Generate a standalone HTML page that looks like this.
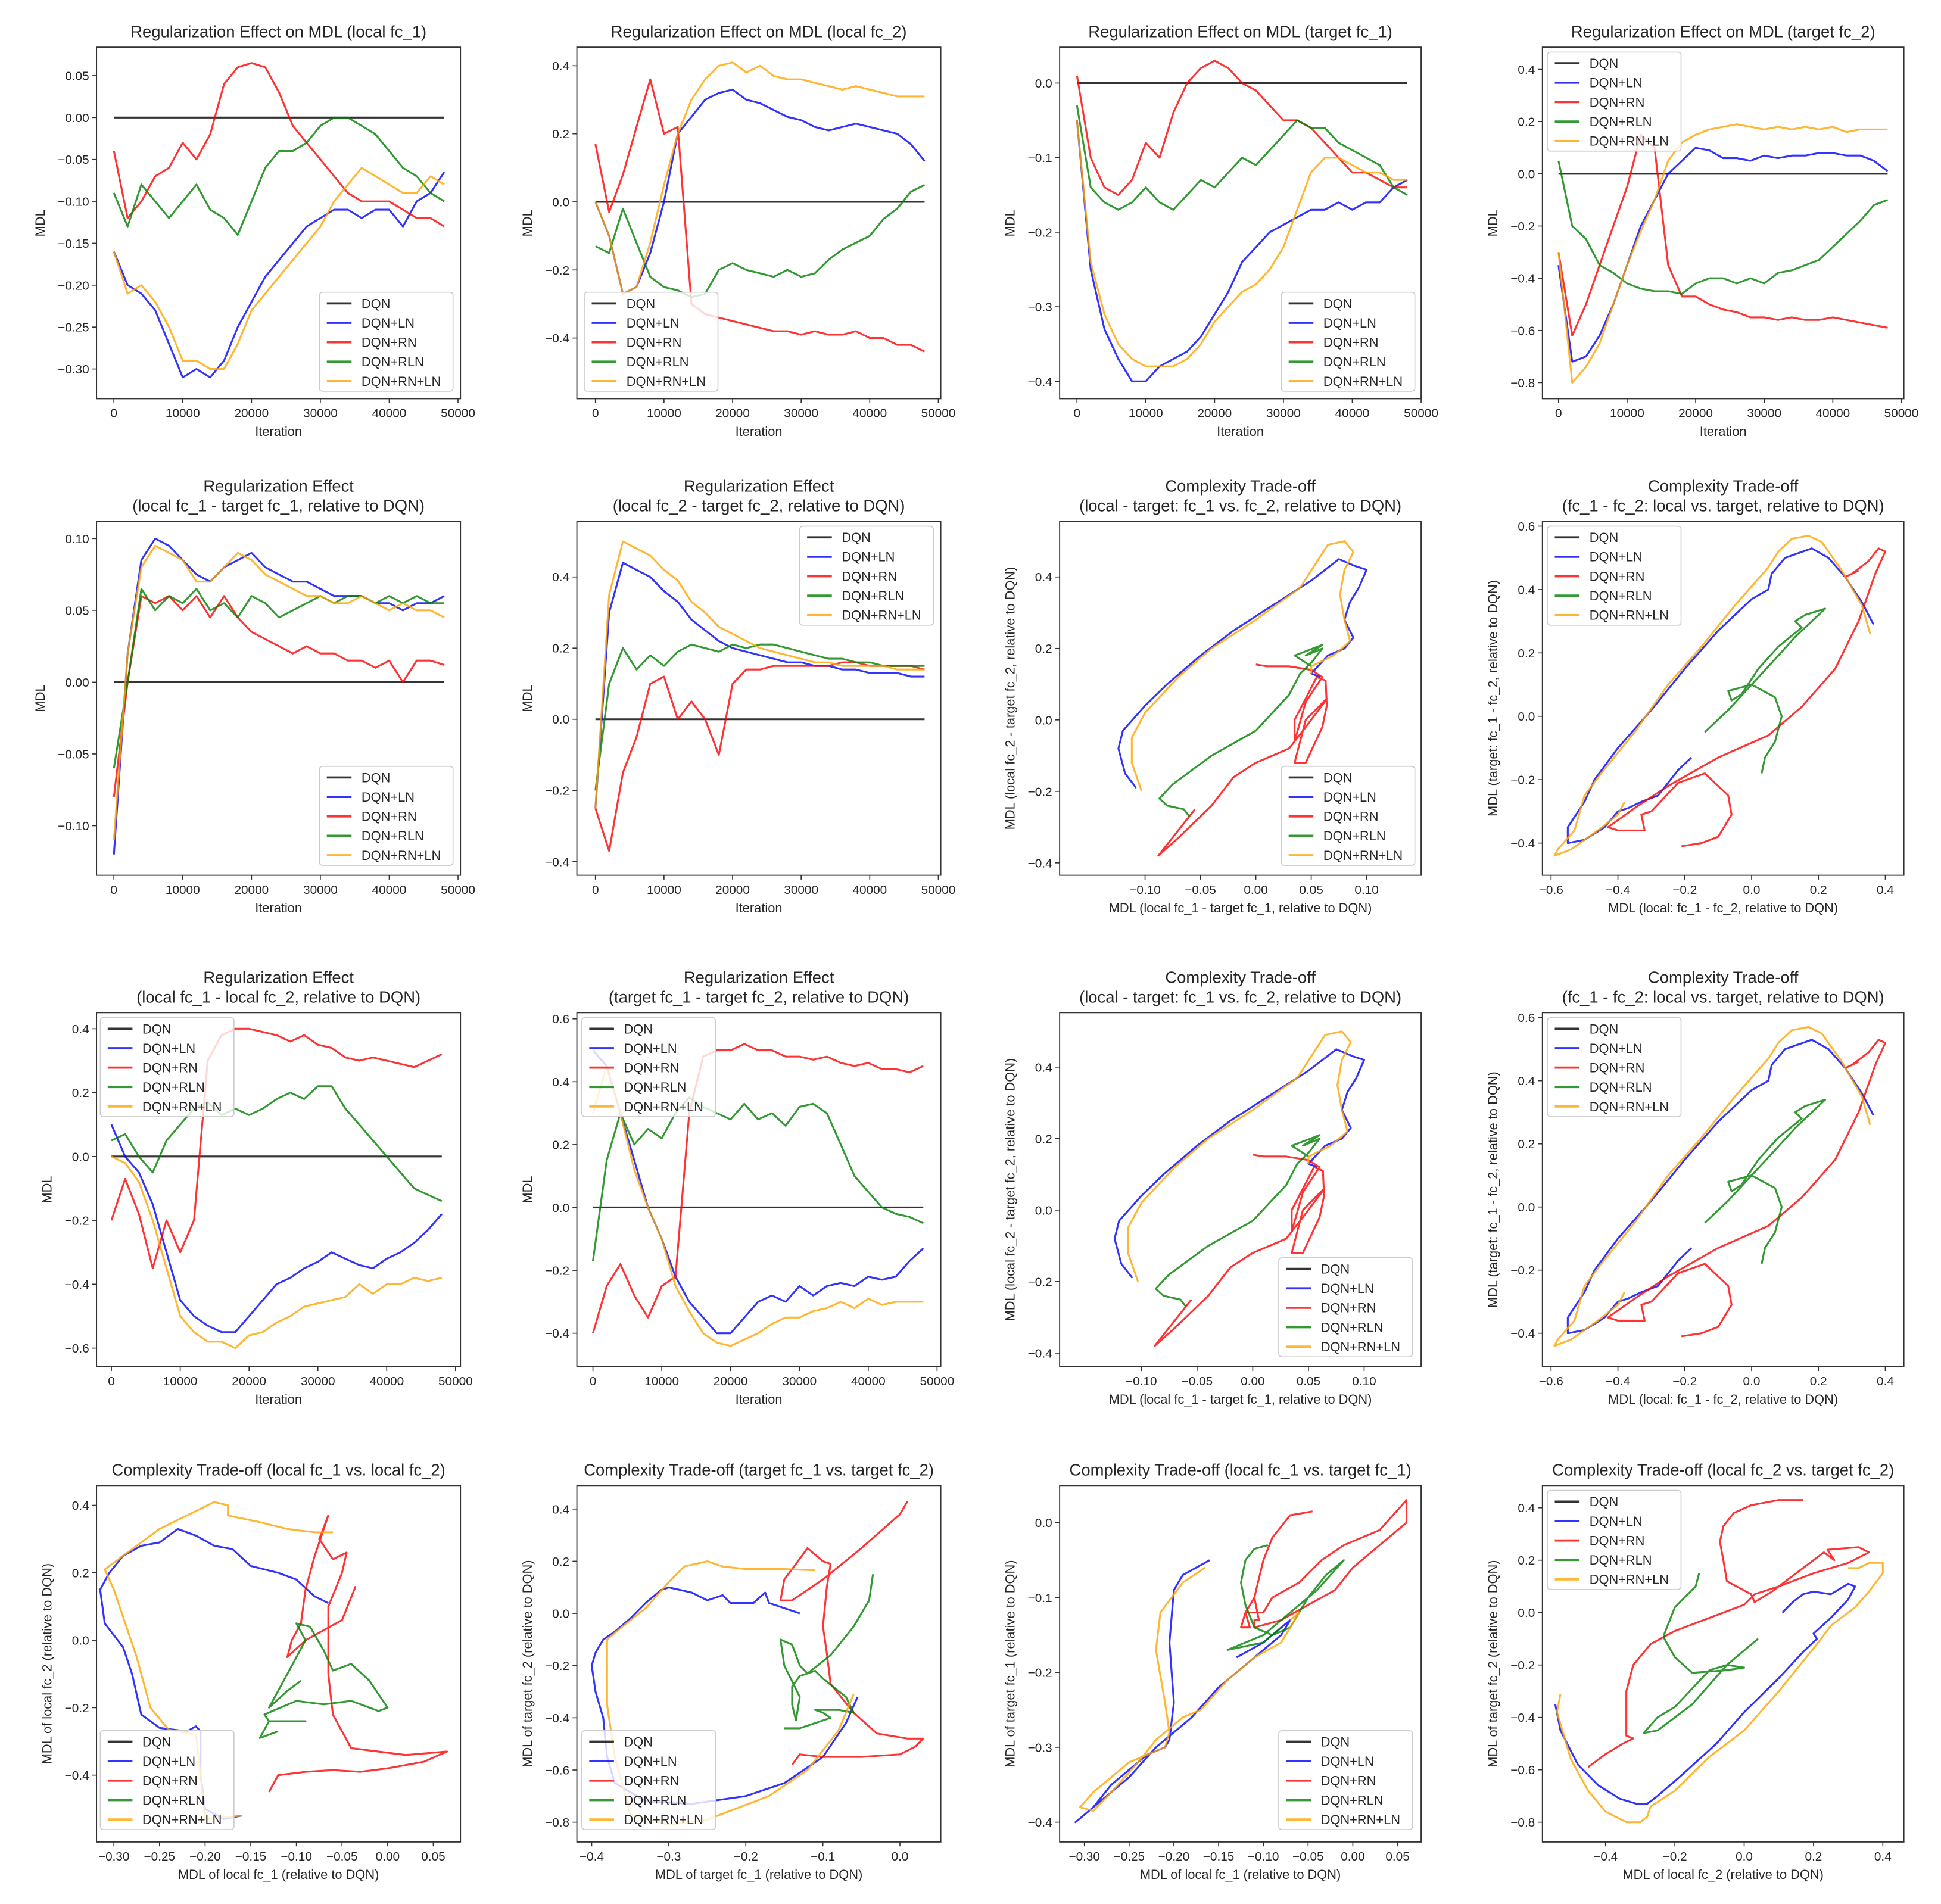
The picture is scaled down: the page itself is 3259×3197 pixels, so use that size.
<!DOCTYPE html>
<html><head><meta charset="utf-8">
<style>
html,body{margin:0;padding:0;background:#fff;}
svg{display:block;}
text{font-family:"Liberation Sans","DejaVu Sans",sans-serif;fill:#262626;}
</style></head>
<body>
<svg id="fig" width="3259" height="3197" viewBox="0 0 1568 1538" xmlns="http://www.w3.org/2000/svg"></svg>
<script>
// ---------- data ----------
const iters = [0,2000,4000,6000,8000,10000,12000,14000,16000,18000,20000,22000,24000,26000,28000,30000,32000,34000,36000,38000,40000,42000,44000,46000,48000];
const seriesNames = ["DQN","DQN+LN","DQN+RN","DQN+RLN","DQN+RN+LN"];
// P1 local fc_1
const p1_LN=[-0.16,-0.20,-0.21,-0.23,-0.27,-0.31,-0.30,-0.31,-0.29,-0.25,-0.22,-0.19,-0.17,-0.15,-0.13,-0.12,-0.11,-0.11,-0.12,-0.11,-0.11,-0.13,-0.10,-0.09,-0.065];
const p1_RNLN=[-0.16,-0.21,-0.20,-0.22,-0.25,-0.29,-0.29,-0.30,-0.30,-0.27,-0.23,-0.21,-0.19,-0.17,-0.15,-0.13,-0.10,-0.08,-0.06,-0.07,-0.08,-0.09,-0.09,-0.07,-0.08];
const p1_RN=[-0.04,-0.12,-0.10,-0.07,-0.06,-0.03,-0.05,-0.02,0.04,0.06,0.065,0.06,0.03,-0.01,-0.03,-0.05,-0.07,-0.09,-0.10,-0.10,-0.10,-0.11,-0.12,-0.12,-0.13];
const p1_RLN=[-0.09,-0.13,-0.08,-0.10,-0.12,-0.10,-0.08,-0.11,-0.12,-0.14,-0.10,-0.06,-0.04,-0.04,-0.03,-0.01,0.00,0.00,-0.01,-0.02,-0.04,-0.06,-0.07,-0.09,-0.10];
// P2 local fc_2
const p2_LN=[0.0,-0.1,-0.27,-0.25,-0.15,0.0,0.2,0.25,0.30,0.32,0.33,0.30,0.29,0.27,0.25,0.24,0.22,0.21,0.22,0.23,0.22,0.21,0.20,0.17,0.12];
const p2_RNLN=[0.0,-0.1,-0.27,-0.25,-0.12,0.05,0.2,0.30,0.36,0.40,0.41,0.38,0.40,0.37,0.36,0.36,0.35,0.34,0.33,0.34,0.33,0.32,0.31,0.31,0.31];
const p2_RN=[0.17,-0.03,0.08,0.22,0.36,0.20,0.22,-0.30,-0.33,-0.34,-0.35,-0.36,-0.37,-0.38,-0.38,-0.39,-0.38,-0.39,-0.39,-0.38,-0.40,-0.40,-0.42,-0.42,-0.44];
const p2_RLN=[-0.13,-0.15,-0.02,-0.12,-0.22,-0.25,-0.26,-0.28,-0.27,-0.20,-0.18,-0.20,-0.21,-0.22,-0.20,-0.22,-0.21,-0.17,-0.14,-0.12,-0.10,-0.05,-0.02,0.03,0.05];
// P3 target fc_1
const p3_LN=[-0.05,-0.25,-0.33,-0.37,-0.40,-0.40,-0.38,-0.37,-0.36,-0.34,-0.31,-0.28,-0.24,-0.22,-0.20,-0.19,-0.18,-0.17,-0.17,-0.16,-0.17,-0.16,-0.16,-0.14,-0.13];
const p3_RNLN=[-0.05,-0.24,-0.31,-0.35,-0.37,-0.38,-0.38,-0.38,-0.37,-0.35,-0.32,-0.30,-0.28,-0.27,-0.25,-0.22,-0.17,-0.12,-0.10,-0.10,-0.11,-0.12,-0.12,-0.13,-0.13];
const p3_RN=[0.01,-0.10,-0.14,-0.15,-0.13,-0.08,-0.10,-0.04,0.0,0.02,0.03,0.02,0.00,-0.01,-0.03,-0.05,-0.05,-0.06,-0.08,-0.10,-0.12,-0.12,-0.13,-0.14,-0.14];
const p3_RLN=[-0.03,-0.14,-0.16,-0.17,-0.16,-0.14,-0.16,-0.17,-0.15,-0.13,-0.14,-0.12,-0.10,-0.11,-0.09,-0.07,-0.05,-0.06,-0.06,-0.08,-0.09,-0.10,-0.11,-0.14,-0.15];
// P4 target fc_2
const p4_LN=[-0.35,-0.72,-0.70,-0.62,-0.50,-0.35,-0.20,-0.10,0.0,0.05,0.10,0.09,0.06,0.06,0.05,0.07,0.06,0.07,0.07,0.08,0.08,0.07,0.07,0.05,0.01];
const p4_RNLN=[-0.3,-0.80,-0.74,-0.65,-0.50,-0.35,-0.22,-0.10,0.05,0.12,0.15,0.17,0.18,0.19,0.18,0.17,0.18,0.17,0.18,0.17,0.18,0.16,0.17,0.17,0.17];
const p4_RN=[-0.30,-0.62,-0.50,-0.35,-0.20,-0.05,0.15,0.10,-0.35,-0.47,-0.47,-0.50,-0.52,-0.53,-0.55,-0.55,-0.56,-0.55,-0.56,-0.56,-0.55,-0.56,-0.57,-0.58,-0.59];
const p4_RLN=[0.05,-0.20,-0.25,-0.35,-0.38,-0.42,-0.44,-0.45,-0.45,-0.46,-0.42,-0.40,-0.40,-0.42,-0.40,-0.42,-0.38,-0.37,-0.35,-0.33,-0.28,-0.23,-0.18,-0.12,-0.10];
// P5
const p5_LN=[-0.12,0.02,0.085,0.10,0.095,0.085,0.075,0.07,0.08,0.085,0.09,0.08,0.075,0.07,0.07,0.065,0.06,0.06,0.06,0.055,0.055,0.05,0.055,0.055,0.06];
const p5_RNLN=[-0.11,0.02,0.08,0.095,0.09,0.085,0.07,0.07,0.08,0.09,0.085,0.075,0.07,0.065,0.06,0.06,0.055,0.055,0.06,0.055,0.05,0.055,0.05,0.05,0.045];
const p5_RN=[-0.08,0.0,0.06,0.055,0.06,0.05,0.06,0.045,0.06,0.045,0.035,0.03,0.025,0.02,0.025,0.02,0.02,0.015,0.015,0.01,0.015,0.0,0.015,0.015,0.012];
const p5_RLN=[-0.06,0.0,0.065,0.05,0.06,0.055,0.065,0.05,0.055,0.045,0.06,0.055,0.045,0.05,0.055,0.06,0.055,0.06,0.06,0.055,0.06,0.055,0.06,0.055,0.055];
// P6
const p6_LN=[-0.25,0.30,0.44,0.42,0.40,0.36,0.33,0.28,0.25,0.22,0.20,0.19,0.18,0.17,0.16,0.16,0.15,0.15,0.14,0.14,0.13,0.13,0.13,0.12,0.12];
const p6_RNLN=[-0.25,0.35,0.50,0.48,0.46,0.42,0.39,0.33,0.30,0.26,0.24,0.22,0.20,0.19,0.18,0.17,0.16,0.16,0.15,0.15,0.15,0.15,0.14,0.14,0.14];
const p6_RN=[-0.25,-0.37,-0.15,-0.05,0.10,0.12,0.0,0.05,0.0,-0.10,0.10,0.14,0.14,0.15,0.15,0.15,0.15,0.15,0.16,0.16,0.15,0.15,0.15,0.15,0.14];
const p6_RLN=[-0.2,0.10,0.20,0.14,0.18,0.15,0.19,0.21,0.20,0.19,0.21,0.20,0.21,0.21,0.20,0.19,0.18,0.17,0.17,0.16,0.16,0.15,0.15,0.15,0.15];
// P9
const p9_LN=[0.1,0.0,-0.05,-0.15,-0.30,-0.45,-0.50,-0.53,-0.55,-0.55,-0.50,-0.45,-0.40,-0.38,-0.35,-0.33,-0.30,-0.32,-0.34,-0.35,-0.32,-0.30,-0.27,-0.23,-0.18];
const p9_RNLN=[0.0,-0.02,-0.08,-0.20,-0.35,-0.50,-0.55,-0.58,-0.58,-0.60,-0.56,-0.55,-0.52,-0.50,-0.47,-0.46,-0.45,-0.44,-0.40,-0.43,-0.40,-0.40,-0.38,-0.39,-0.38];
const p9_RN=[-0.2,-0.07,-0.18,-0.35,-0.2,-0.3,-0.2,0.30,0.38,0.40,0.40,0.39,0.38,0.36,0.38,0.35,0.34,0.31,0.30,0.31,0.30,0.29,0.28,0.30,0.32];
const p9_RLN=[0.05,0.07,0.0,-0.05,0.05,0.10,0.15,0.17,0.13,0.15,0.13,0.15,0.18,0.20,0.18,0.22,0.22,0.15,0.10,0.05,0.0,-0.05,-0.10,-0.12,-0.14];
// P10
const p10_LN=[0.5,0.45,0.3,0.15,0.0,-0.1,-0.22,-0.30,-0.35,-0.40,-0.40,-0.35,-0.30,-0.28,-0.30,-0.25,-0.28,-0.25,-0.24,-0.25,-0.22,-0.23,-0.22,-0.17,-0.13];
const p10_RNLN=[0.3,0.45,0.3,0.12,0.0,-0.1,-0.25,-0.33,-0.40,-0.43,-0.44,-0.42,-0.40,-0.37,-0.35,-0.35,-0.33,-0.32,-0.30,-0.32,-0.29,-0.31,-0.30,-0.30,-0.30];
const p10_RN=[-0.4,-0.25,-0.18,-0.28,-0.35,-0.25,-0.22,0.30,0.48,0.50,0.50,0.52,0.50,0.50,0.48,0.48,0.47,0.48,0.46,0.45,0.46,0.44,0.44,0.43,0.45];
const p10_RLN=[-0.17,0.15,0.30,0.20,0.25,0.22,0.30,0.35,0.32,0.30,0.28,0.33,0.28,0.30,0.26,0.32,0.33,0.30,0.20,0.10,0.05,0.0,-0.02,-0.03,-0.05];
// P7 / P11 parametric [x,y]
const p7_LN=[[-0.108,-0.19],[-0.118,-0.15],[-0.124,-0.08],[-0.12,-0.03],[-0.10,0.04],[-0.08,0.10],[-0.05,0.18],[-0.02,0.25],[0.02,0.33],[0.05,0.39],[0.075,0.45],[0.09,0.43],[0.10,0.42],[0.093,0.37],[0.085,0.33],[0.08,0.28],[0.088,0.23],[0.08,0.20],[0.065,0.18],[0.05,0.13],[0.058,0.12]];
const p7_RNLN=[[-0.103,-0.20],[-0.112,-0.12],[-0.112,-0.05],[-0.10,0.02],[-0.07,0.12],[-0.04,0.20],[0.0,0.28],[0.04,0.37],[0.065,0.49],[0.08,0.50],[0.088,0.47],[0.08,0.42],[0.076,0.35],[0.08,0.28],[0.085,0.22],[0.07,0.18],[0.05,0.15],[0.05,0.13]];
const p7_RN=[[-0.055,-0.25],[-0.088,-0.38],[-0.07,-0.33],[-0.04,-0.24],[-0.02,-0.16],[0.0,-0.12],[0.03,-0.08],[0.045,-0.02],[0.062,0.05],[0.064,0.06],[0.045,0.0],[0.035,-0.12],[0.045,-0.12],[0.06,-0.02],[0.064,0.04],[0.063,0.11],[0.055,0.12],[0.045,0.06],[0.035,0.0],[0.035,-0.06],[0.045,0.05],[0.06,0.12],[0.05,0.14],[0.03,0.15],[0.01,0.15],[0.0,0.155]];
const p7_RLN=[[-0.06,-0.27],[-0.065,-0.25],[-0.08,-0.24],[-0.087,-0.22],[-0.075,-0.18],[-0.04,-0.10],[0.0,-0.03],[0.03,0.07],[0.04,0.13],[0.05,0.16],[0.06,0.20],[0.045,0.18],[0.06,0.21],[0.035,0.18],[0.05,0.15]];
// P8 / P12
const p8_LN=[[-0.18,-0.13],[-0.22,-0.17],[-0.28,-0.25],[-0.33,-0.27],[-0.37,-0.29],[-0.40,-0.30],[-0.44,-0.35],[-0.50,-0.39],[-0.55,-0.40],[-0.55,-0.35],[-0.50,-0.27],[-0.47,-0.20],[-0.40,-0.10],[-0.30,0.02],[-0.20,0.15],[-0.10,0.27],[0.0,0.37],[0.05,0.40],[0.06,0.45],[0.10,0.50],[0.18,0.53],[0.23,0.50],[0.28,0.44],[0.33,0.36],[0.365,0.29]];
const p8_RNLN=[[-0.38,-0.27],[-0.40,-0.31],[-0.46,-0.36],[-0.54,-0.42],[-0.59,-0.44],[-0.58,-0.42],[-0.53,-0.36],[-0.50,-0.25],[-0.45,-0.18],[-0.35,-0.05],[-0.25,0.10],[-0.15,0.22],[-0.05,0.35],[0.05,0.47],[0.08,0.52],[0.12,0.56],[0.17,0.57],[0.21,0.55],[0.27,0.46],[0.33,0.35],[0.355,0.26]];
const p8_RN=[[-0.21,-0.41],[-0.15,-0.40],[-0.10,-0.38],[-0.06,-0.31],[-0.07,-0.25],[-0.14,-0.18],[-0.22,-0.21],[-0.30,-0.30],[-0.33,-0.31],[-0.32,-0.36],[-0.40,-0.36],[-0.43,-0.35],[-0.35,-0.29],[-0.25,-0.22],[-0.10,-0.13],[0.05,-0.06],[0.15,0.03],[0.25,0.15],[0.32,0.30],[0.37,0.45],[0.40,0.52],[0.38,0.53],[0.35,0.49],[0.30,0.45],[0.28,0.44],[0.32,0.46]];
const p8_RLN=[[0.03,-0.18],[0.04,-0.13],[0.07,-0.08],[0.09,0.0],[0.07,0.06],[0.0,0.10],[-0.07,0.08],[-0.06,0.05],[-0.03,0.07],[0.02,0.15],[0.08,0.22],[0.15,0.28],[0.13,0.30],[0.16,0.32],[0.22,0.34],[0.13,0.25],[0.07,0.18],[0.0,0.10],[-0.07,0.02],[-0.14,-0.05]];
// P13
const p13_LN=[[-0.16,-0.52],[-0.18,-0.53],[-0.20,-0.50],[-0.205,-0.40],[-0.205,-0.27],[-0.21,-0.255],[-0.22,-0.27],[-0.25,-0.26],[-0.27,-0.22],[-0.28,-0.10],[-0.29,-0.02],[-0.31,0.05],[-0.315,0.15],[-0.305,0.20],[-0.29,0.25],[-0.27,0.28],[-0.25,0.29],[-0.23,0.33],[-0.21,0.31],[-0.19,0.28],[-0.17,0.27],[-0.15,0.22],[-0.12,0.20],[-0.10,0.18],[-0.08,0.13],[-0.065,0.11]];
const p13_RNLN=[[-0.16,-0.52],[-0.20,-0.53],[-0.205,-0.40],[-0.21,-0.28],[-0.24,-0.265],[-0.26,-0.20],[-0.275,-0.05],[-0.30,0.15],[-0.31,0.21],[-0.28,0.27],[-0.25,0.33],[-0.22,0.37],[-0.19,0.41],[-0.175,0.40],[-0.175,0.37],[-0.14,0.35],[-0.11,0.33],[-0.08,0.32],[-0.06,0.32]];
const p13_RN=[[-0.13,-0.45],[-0.12,-0.40],[-0.09,-0.39],[-0.06,-0.385],[-0.03,-0.39],[0.00,-0.38],[0.04,-0.36],[0.065,-0.33],[0.02,-0.34],[-0.04,-0.32],[-0.06,-0.22],[-0.065,-0.10],[-0.065,0.10],[-0.05,0.20],[-0.045,0.26],[-0.06,0.24],[-0.075,0.30],[-0.065,0.37],[-0.08,0.25],[-0.09,0.15],[-0.095,0.05],[-0.105,0.0],[-0.11,-0.05],[-0.09,0.0],[-0.05,0.06],[-0.035,0.16]];
const p13_RLN=[[-0.12,-0.27],[-0.14,-0.29],[-0.13,-0.24],[-0.09,-0.24],[-0.13,-0.24],[-0.135,-0.22],[-0.10,-0.18],[-0.07,-0.19],[-0.04,-0.18],[-0.01,-0.21],[0.00,-0.20],[-0.02,-0.12],[-0.04,-0.07],[-0.06,-0.09],[-0.07,-0.03],[-0.085,0.04],[-0.10,0.05],[-0.09,0.0],[-0.11,-0.10],[-0.12,-0.15],[-0.13,-0.20],[-0.11,-0.15],[-0.095,-0.12]];
// P14
const p14_LN=[[-0.055,-0.32],[-0.07,-0.42],[-0.10,-0.55],[-0.15,-0.65],[-0.20,-0.70],[-0.27,-0.73],[-0.33,-0.72],[-0.37,-0.65],[-0.38,-0.55],[-0.385,-0.40],[-0.395,-0.30],[-0.40,-0.20],[-0.395,-0.15],[-0.385,-0.10],[-0.37,-0.07],[-0.35,-0.02],[-0.33,0.04],[-0.31,0.09],[-0.30,0.10],[-0.27,0.08],[-0.25,0.05],[-0.23,0.07],[-0.22,0.04],[-0.19,0.04],[-0.175,0.08],[-0.17,0.04],[-0.15,0.02],[-0.13,0.0]];
const p14_RNLN=[[-0.06,-0.31],[-0.08,-0.45],[-0.12,-0.60],[-0.17,-0.70],[-0.25,-0.79],[-0.30,-0.81],[-0.35,-0.77],[-0.37,-0.55],[-0.38,-0.35],[-0.38,-0.10],[-0.36,-0.05],[-0.33,0.02],[-0.30,0.12],[-0.28,0.18],[-0.25,0.20],[-0.23,0.18],[-0.20,0.17],[-0.15,0.17],[-0.11,0.165]];
const p14_RN=[[-0.14,-0.58],[-0.13,-0.54],[-0.10,-0.55],[-0.05,-0.55],[0.0,-0.54],[0.02,-0.51],[0.03,-0.48],[0.01,-0.48],[-0.03,-0.46],[-0.06,-0.38],[-0.09,-0.27],[-0.095,-0.15],[-0.10,-0.05],[-0.095,0.10],[-0.09,0.19],[-0.10,0.20],[-0.12,0.25],[-0.13,0.21],[-0.15,0.13],[-0.155,0.05],[-0.14,0.05],[-0.10,0.13],[-0.05,0.25],[0.0,0.38],[0.01,0.43]];
const p14_RLN=[[-0.15,-0.44],[-0.13,-0.44],[-0.10,-0.41],[-0.09,-0.40],[-0.10,-0.38],[-0.11,-0.37],[-0.08,-0.37],[-0.06,-0.38],[-0.07,-0.32],[-0.10,-0.25],[-0.11,-0.22],[-0.13,-0.24],[-0.14,-0.28],[-0.14,-0.35],[-0.135,-0.41],[-0.13,-0.32],[-0.15,-0.20],[-0.155,-0.10],[-0.14,-0.12],[-0.13,-0.20],[-0.12,-0.23],[-0.09,-0.16],[-0.06,-0.05],[-0.04,0.05],[-0.035,0.15]];
// P15
const p15_LN=[[-0.16,-0.05],[-0.19,-0.07],[-0.20,-0.09],[-0.205,-0.16],[-0.20,-0.24],[-0.205,-0.29],[-0.21,-0.30],[-0.23,-0.31],[-0.25,-0.33],[-0.27,-0.35],[-0.29,-0.38],[-0.31,-0.40],[-0.30,-0.39],[-0.28,-0.37],[-0.25,-0.34],[-0.22,-0.30],[-0.20,-0.28],[-0.18,-0.26],[-0.15,-0.22],[-0.12,-0.19],[-0.10,-0.17],[-0.08,-0.15],[-0.07,-0.13],[-0.10,-0.16],[-0.13,-0.18]];
const p15_RNLN=[[-0.165,-0.06],[-0.19,-0.08],[-0.215,-0.12],[-0.22,-0.17],[-0.21,-0.24],[-0.205,-0.28],[-0.21,-0.30],[-0.25,-0.32],[-0.29,-0.36],[-0.305,-0.38],[-0.29,-0.385],[-0.27,-0.36],[-0.24,-0.32],[-0.22,-0.29],[-0.19,-0.26],[-0.17,-0.25],[-0.14,-0.21],[-0.11,-0.18],[-0.08,-0.16],[-0.06,-0.12],[-0.07,-0.13]];
const p15_RN=[[-0.045,0.015],[-0.07,0.01],[-0.09,-0.02],[-0.10,-0.05],[-0.11,-0.10],[-0.12,-0.12],[-0.125,-0.14],[-0.115,-0.14],[-0.12,-0.12],[-0.10,-0.12],[-0.09,-0.10],[-0.06,-0.08],[-0.035,-0.05],[-0.01,-0.03],[0.03,-0.01],[0.06,0.03],[0.06,0.0],[0.03,-0.03],[0.00,-0.06],[-0.02,-0.09],[-0.05,-0.11],[-0.08,-0.13],[-0.11,-0.14],[-0.11,-0.13],[-0.105,-0.13],[-0.11,-0.10]];
const p15_RLN=[[-0.095,-0.03],[-0.11,-0.035],[-0.12,-0.05],[-0.125,-0.08],[-0.12,-0.11],[-0.11,-0.14],[-0.09,-0.15],[-0.07,-0.14],[-0.05,-0.10],[-0.03,-0.07],[-0.01,-0.05],[-0.04,-0.09],[-0.07,-0.12],[-0.10,-0.15],[-0.13,-0.165],[-0.14,-0.17],[-0.10,-0.16],[-0.08,-0.14]];
// P16
const p16_LN=[[-0.545,-0.35],[-0.53,-0.45],[-0.48,-0.58],[-0.42,-0.66],[-0.36,-0.71],[-0.31,-0.73],[-0.28,-0.73],[-0.25,-0.70],[-0.18,-0.62],[-0.08,-0.50],[0.0,-0.38],[0.10,-0.25],[0.17,-0.15],[0.21,-0.10],[0.20,-0.08],[0.25,-0.02],[0.30,0.05],[0.32,0.10],[0.30,0.11],[0.25,0.07],[0.20,0.08],[0.17,0.07],[0.14,0.04],[0.11,0.0]];
const p16_RNLN=[[-0.53,-0.31],[-0.54,-0.38],[-0.50,-0.56],[-0.45,-0.68],[-0.40,-0.76],[-0.34,-0.80],[-0.30,-0.80],[-0.28,-0.78],[-0.27,-0.74],[-0.20,-0.68],[-0.10,-0.55],[0.0,-0.45],[0.10,-0.30],[0.21,-0.12],[0.25,-0.05],[0.32,0.02],[0.36,0.08],[0.40,0.15],[0.40,0.19],[0.36,0.19],[0.33,0.17],[0.30,0.17]];
const p16_RN=[[-0.45,-0.59],[-0.40,-0.54],[-0.35,-0.50],[-0.32,-0.48],[-0.34,-0.47],[-0.34,-0.30],[-0.32,-0.20],[-0.27,-0.12],[-0.20,-0.07],[-0.10,-0.02],[0.0,0.03],[0.03,0.07],[0.10,0.10],[0.20,0.15],[0.30,0.19],[0.36,0.23],[0.33,0.25],[0.24,0.24],[0.26,0.20],[0.23,0.23],[0.15,0.15],[0.08,0.08],[0.03,0.04],[0.02,0.07],[-0.05,0.12],[-0.06,0.20],[-0.07,0.27],[-0.06,0.33],[-0.03,0.38],[0.02,0.41],[0.10,0.43],[0.17,0.43]];
const p16_RLN=[[-0.13,0.15],[-0.14,0.10],[-0.20,0.02],[-0.23,-0.08],[-0.23,-0.10],[-0.20,-0.17],[-0.15,-0.23],[-0.05,-0.22],[0.0,-0.21],[-0.05,-0.20],[-0.10,-0.22],[-0.15,-0.29],[-0.20,-0.36],[-0.25,-0.40],[-0.29,-0.46],[-0.25,-0.45],[-0.15,-0.35],[-0.05,-0.20],[0.04,-0.10]];

// tick label arrays
const itTicks=[0,10000,20000,30000,40000,50000];
const p1_yt=[0.05,0,-0.05,-0.10,-0.15,-0.20,-0.25,-0.30];
const p2_yt=[0.4,0.2,0.0,-0.2,-0.4];
const p3_yt=[0.0,-0.1,-0.2,-0.3,-0.4];
const p4_yt=[0.4,0.2,0.0,-0.2,-0.4,-0.6,-0.8];
const p5_yt=[0.10,0.05,0.00,-0.05,-0.10];
const p6_yt=[0.4,0.2,0.0,-0.2,-0.4];
const p7_xt=[-0.10,-0.05,0.00,0.05,0.10];
const p7_yt=[0.4,0.2,0.0,-0.2,-0.4];
const p8_xt=[-0.6,-0.4,-0.2,0.0,0.2,0.4];
const p8_yt=[0.6,0.4,0.2,0.0,-0.2,-0.4];
const p9_yt=[0.4,0.2,0.0,-0.2,-0.4,-0.6];
const p10_yt=[0.6,0.4,0.2,0.0,-0.2,-0.4];
const p13_xt=[-0.30,-0.25,-0.20,-0.15,-0.10,-0.05,0.00,0.05];
const p13_yt=[0.4,0.2,0.0,-0.2,-0.4];
const p14_xt=[-0.4,-0.3,-0.2,-0.1,0.0];
const p14_yt=[0.4,0.2,0.0,-0.2,-0.4,-0.6,-0.8];
const p15_xt=[-0.30,-0.25,-0.20,-0.15,-0.10,-0.05,0.00,0.05];
const p15_yt=[0.0,-0.1,-0.2,-0.3,-0.4];
const p16_xt=[-0.4,-0.2,0.0,0.2,0.4];
const p16_yt=[0.4,0.2,0.0,-0.2,-0.4,-0.6,-0.8];

// ---------- layout ----------
const COLORS={"DQN":"#000","DQN+LN":"#0000ff","DQN+RN":"#ff0000","DQN+RLN":"#008000","DQN+RN+LN":"#ffa500"};
const cols=[[78,372],[466,760],[856,1148],[1246,1538]];
const rows=[[38,322],[421,707],[818,1104],[1200,1488]];
const T_RE="Regularization Effect", T_CT="Complexity Trade-off";
const L7x="MDL (local fc_1 - target fc_1, relative to DQN)", L7y="MDL (local fc_2 - target fc_2, relative to DQN)";
const L8x="MDL (local: fc_1 - fc_2, relative to DQN)", L8y="MDL (target: fc_1 - fc_2, relative to DQN)";
const panels=[
 {r:0,c:0,title:["Regularization Effect on MDL (local fc_1)"],xm:[0,92,50000,370],ym:[0.05,61,-0.30,298],xt:itTicks,xd:0,yt:p1_yt,yd:2,xl:"Iteration",yl:"MDL",ts:{LN:p1_LN,RN:p1_RN,RLN:p1_RLN,RNLN:p1_RNLN},leg:[258,236]},
 {r:0,c:1,title:["Regularization Effect on MDL (local fc_2)"],xm:[0,481,50000,758],ym:[0.4,53,-0.4,273],xt:itTicks,xd:0,yt:p2_yt,yd:1,xl:"Iteration",yl:"MDL",ts:{LN:p2_LN,RN:p2_RN,RLN:p2_RLN,RNLN:p2_RNLN},leg:[472,236]},
 {r:0,c:2,title:["Regularization Effect on MDL (target fc_1)"],xm:[0,870,50000,1148],ym:[0.0,67,-0.4,308],xt:itTicks,xd:0,yt:p3_yt,yd:1,xl:"Iteration",yl:"MDL",ts:{LN:p3_LN,RN:p3_RN,RLN:p3_RLN,RNLN:p3_RNLN},leg:[1035,236]},
 {r:0,c:3,title:["Regularization Effect on MDL (target fc_2)"],xm:[0,1259,50000,1536],ym:[0.4,56,-0.8,309],xt:itTicks,xd:0,yt:p4_yt,yd:1,xl:"Iteration",yl:"MDL",ts:{LN:p4_LN,RN:p4_RN,RLN:p4_RLN,RNLN:p4_RNLN},leg:[1250,42]},
 {r:1,c:0,title:[T_RE,"(local fc_1 - target fc_1, relative to DQN)"],xm:[0,92,50000,370],ym:[0.10,435,-0.10,667],xt:itTicks,xd:0,yt:p5_yt,yd:2,xl:"Iteration",yl:"MDL",ts:{LN:p5_LN,RN:p5_RN,RLN:p5_RLN,RNLN:p5_RNLN},leg:[258,619]},
 {r:1,c:1,title:[T_RE,"(local fc_2 - target fc_2, relative to DQN)"],xm:[0,481,50000,758],ym:[0.4,466,-0.4,696],xt:itTicks,xd:0,yt:p6_yt,yd:1,xl:"Iteration",yl:"MDL",ts:{LN:p6_LN,RN:p6_RN,RLN:p6_RLN,RNLN:p6_RNLN},leg:[646,425]},
 {r:1,c:2,title:[T_CT,"(local - target: fc_1 vs. fc_2, relative to DQN)"],xm:[-0.10,925,0.10,1104],ym:[0.4,466,-0.4,697],xt:p7_xt,xd:2,yt:p7_yt,yd:1,xl:L7x,yl:L7y,ps:{LN:p7_LN,RN:p7_RN,RLN:p7_RLN,RNLN:p7_RNLN},leg:[1035,619]},
 {r:1,c:3,title:[T_CT,"(fc_1 - fc_2: local vs. target, relative to DQN)"],xm:[-0.6,1253,0.4,1523],ym:[0.6,425,-0.4,681],xt:p8_xt,xd:1,yt:p8_yt,yd:1,xl:L8x,yl:L8y,ps:{LN:p8_LN,RN:p8_RN,RLN:p8_RLN,RNLN:p8_RNLN},leg:[1250,425]},
 {r:2,c:0,title:[T_RE,"(local fc_1 - local fc_2, relative to DQN)"],xm:[0,90,50000,368],ym:[0.4,831,-0.6,1089],xt:itTicks,xd:0,yt:p9_yt,yd:1,xl:"Iteration",yl:"MDL",ts:{LN:p9_LN,RN:p9_RN,RLN:p9_RLN,RNLN:p9_RNLN},leg:[81,822]},
 {r:2,c:1,title:[T_RE,"(target fc_1 - target fc_2, relative to DQN)"],xm:[0,479,50000,757],ym:[0.6,823,-0.4,1077],xt:itTicks,xd:0,yt:p10_yt,yd:1,xl:"Iteration",yl:"MDL",ts:{LN:p10_LN,RN:p10_RN,RLN:p10_RLN,RNLN:p10_RNLN},leg:[470,822]},
 {r:2,c:2,title:[T_CT,"(local - target: fc_1 vs. fc_2, relative to DQN)"],xm:[-0.10,922,0.10,1102],ym:[0.4,862,-0.4,1093],xt:p7_xt,xd:2,yt:p7_yt,yd:1,xl:L7x,yl:L7y,ps:{LN:p7_LN,RN:p7_RN,RLN:p7_RLN,RNLN:p7_RNLN},leg:[1033,1016]},
 {r:2,c:3,title:[T_CT,"(fc_1 - fc_2: local vs. target, relative to DQN)"],xm:[-0.6,1253,0.4,1523],ym:[0.6,822,-0.4,1077],xt:p8_xt,xd:1,yt:p8_yt,yd:1,xl:L8x,yl:L8y,ps:{LN:p8_LN,RN:p8_RN,RLN:p8_RLN,RNLN:p8_RNLN},leg:[1250,822]},
 {r:3,c:0,title:["Complexity Trade-off (local fc_1 vs. local fc_2)"],xm:[-0.30,92,0.05,350],ym:[0.4,1216,-0.4,1434],xt:p13_xt,xd:2,yt:p13_yt,yd:1,xl:"MDL of local fc_1 (relative to DQN)",yl:"MDL of local fc_2 (relative to DQN)",ps:{LN:p13_LN,RN:p13_RN,RLN:p13_RLN,RNLN:p13_RNLN},leg:[81,1398]},
 {r:3,c:1,title:["Complexity Trade-off (target fc_1 vs. target fc_2)"],xm:[-0.4,478,0.0,727],ym:[0.4,1219,-0.8,1472],xt:p14_xt,xd:1,yt:p14_yt,yd:1,xl:"MDL of target fc_1 (relative to DQN)",yl:"MDL of target fc_2 (relative to DQN)",ps:{LN:p14_LN,RN:p14_RN,RLN:p14_RLN,RNLN:p14_RNLN},leg:[470,1398]},
 {r:3,c:2,title:["Complexity Trade-off (local fc_1 vs. target fc_1)"],xm:[-0.30,876,0.05,1129],ym:[0.0,1230,-0.4,1472],xt:p15_xt,xd:2,yt:p15_yt,yd:1,xl:"MDL of local fc_1 (relative to DQN)",yl:"MDL of target fc_1 (relative to DQN)",ps:{LN:p15_LN,RN:p15_RN,RLN:p15_RLN,RNLN:p15_RNLN},leg:[1033,1398]},
 {r:3,c:3,title:["Complexity Trade-off (local fc_2 vs. target fc_2)"],xm:[-0.4,1297,0.4,1521],ym:[0.4,1218,-0.8,1472],xt:p16_xt,xd:1,yt:p16_yt,yd:1,xl:"MDL of local fc_2 (relative to DQN)",yl:"MDL of target fc_2 (relative to DQN)",ps:{LN:p16_LN,RN:p16_RN,RLN:p16_RLN,RNLN:p16_RNLN},leg:[1250,1204]}
];

// ---------- render ----------
const NS="http://www.w3.org/2000/svg";
const svg=document.getElementById("fig");
function mk(tag,attrs,parent){const e=document.createElementNS(NS,tag);for(const k in attrs)e.setAttribute(k,attrs[k]);(parent||svg).appendChild(e);return e;}
function lin(m){return v=>m[1]+(v-m[0])*(m[3]-m[1])/(m[2]-m[0]);}
function fmt(v,d){const s=Math.abs(v).toFixed(d);return (v<-1e-9?"\u2212":"")+s;}
const keyMap={"DQN+LN":"LN","DQN+RN":"RN","DQN+RLN":"RLN","DQN+RN+LN":"RNLN"};

panels.forEach((p,i)=>{
  const [x0,x1]=cols[p.c],[y0,y1]=rows[p.r];
  const X=lin(p.xm),Y=lin(p.ym);
  const g=mk("g",{});
  
  
  const cid="clip"+i;
  const cp=mk("clipPath",{id:cid},g);mk("rect",{x:x0,y:y0,width:x1-x0,height:y1-y0},cp);
  // title
  const cx=(x0+x1)/2;
  p.title.forEach((t,k)=>{
    const tt=mk("text",{x:cx,y:y0-8-(p.title.length-1-k)*16,"text-anchor":"middle","font-size":13.2},g);
    tt.textContent=t;
    
    
  });
  // ticks
  const xa=mk("g",{},g);
  
  
  p.xt.forEach(v=>{const px=X(v);if(px<x0-1||px>x1+12)return;
    mk("line",{x1:px,x2:px,y1:y1,y2:y1+3.5,stroke:"#333","stroke-width":0.8},xa);
    const t=mk("text",{x:px,y:y1+15,"text-anchor":"middle","font-size":10},xa);t.textContent=fmt(v,p.xd);
    
    });
  const ya=mk("g",{},g);
  
  
  p.yt.forEach(v=>{const py=Y(v);
    mk("line",{x1:x0-3.5,x2:x0,y1:py,y2:py,stroke:"#333","stroke-width":0.8},ya);
    const t=mk("text",{x:x0-6,y:py+3.6,"text-anchor":"end","font-size":10},ya);t.textContent=fmt(v,p.yd);
    
    });
  const xl=mk("text",{x:cx,y:y1+30,"text-anchor":"middle","font-size":10.5},g);xl.textContent=p.xl;
  
  
  const maxw=Math.max(...p.yt.map(v=>fmt(v,p.yd).length));
  const lx=x0-10-maxw*5.6-4;
  const yl=mk("text",{x:lx,y:(y0+y1)/2,"text-anchor":"middle","font-size":10.5,transform:`rotate(-90 ${lx} ${(y0+y1)/2})`},g);yl.textContent=p.yl;
  
  
  // series
  const sg=mk("g",{"clip-path":`url(#${cid})`},g);
  if(p.ts){
    const dl=mk("path",{d:`M${X(iters[0])},${Y(0)}L${X(iters[iters.length-1])},${Y(0)}`,fill:"none",stroke:"#000","stroke-opacity":0.8,"stroke-width":1.5},sg);
    
    
    ["DQN+LN","DQN+RN","DQN+RLN","DQN+RN+LN"].forEach(n=>{
      const arr=p.ts[keyMap[n]];
      const d=arr.map((v,j)=>(j?"L":"M")+X(iters[j]).toFixed(1)+","+Y(v).toFixed(1)).join("");
      const pe=mk("path",{d:d,fill:"none",stroke:COLORS[n],"stroke-opacity":0.8,"stroke-width":1.5,"stroke-linejoin":"round"},sg);
      
      
    });
  } else {
    ["DQN+LN","DQN+RN","DQN+RLN","DQN+RN+LN"].forEach(n=>{
      const arr=p.ps[keyMap[n]];
      const d=arr.map((pt,j)=>(j?"L":"M")+X(pt[0]).toFixed(1)+","+Y(pt[1]).toFixed(1)).join("");
      const pe=mk("path",{d:d,fill:"none",stroke:COLORS[n],"stroke-opacity":0.8,"stroke-width":1.5,"stroke-linejoin":"round"},sg);
      
      
    });
  }
  // frame
  mk("rect",{x:x0,y:y0,width:x1-x0,height:y1-y0,fill:"none",stroke:"#333","stroke-width":0.9},g);
  // legend
  const [lx0,ly0]=p.leg;
  const lg=mk("g",{},g);
  
  
  mk("rect",{x:lx0,y:ly0,width:108,height:80,rx:2.5,fill:"#fff","fill-opacity":0.8,stroke:"#ccc","stroke-width":0.8},lg);
  seriesNames.forEach((n,k)=>{
    const yy=ly0+9+k*15.7;
    const ent=mk("g",{},lg);
    
    
    mk("line",{x1:lx0+6,x2:lx0+26,y1:yy,y2:yy,stroke:COLORS[n],"stroke-opacity":0.8,"stroke-width":1.8},ent);
    const t=mk("text",{x:lx0+34,y:yy+3.8,"font-size":10.5},ent);t.textContent=n;
  });
});
</script>
</body></html>
